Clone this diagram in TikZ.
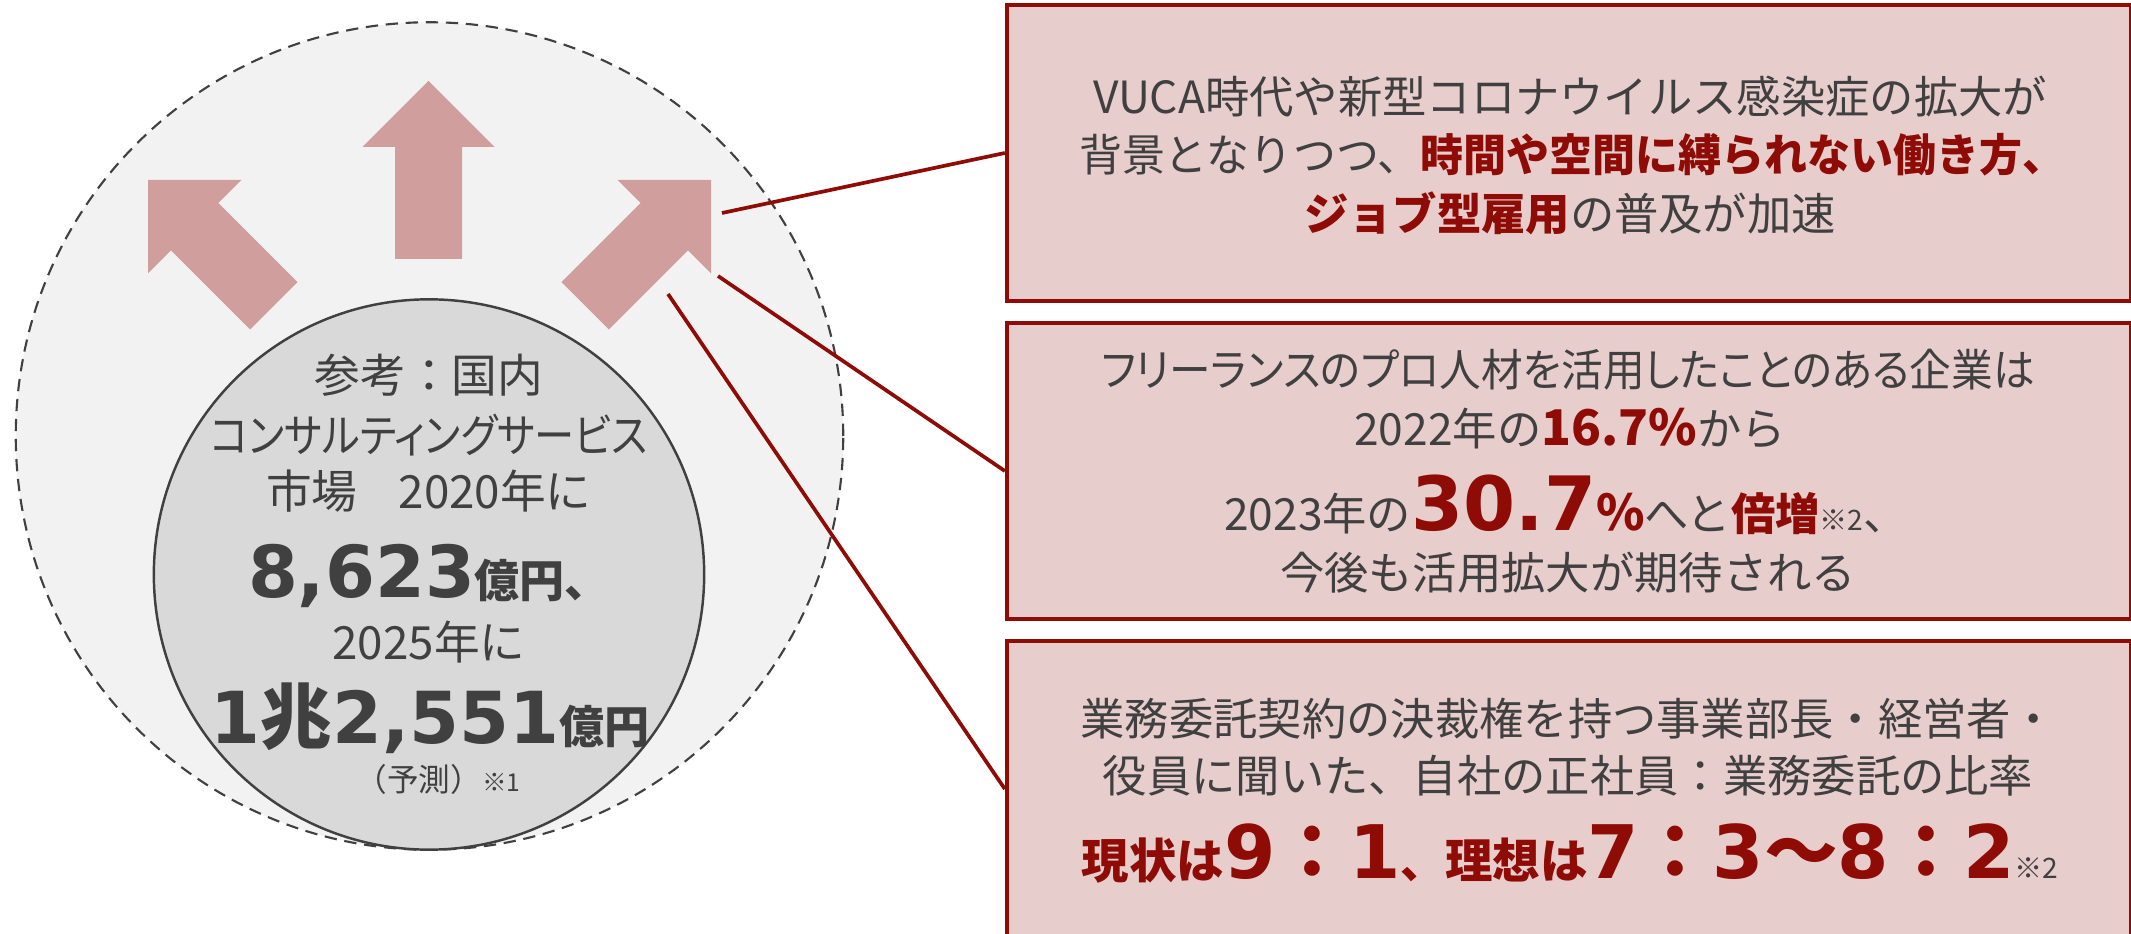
\documentclass[tikz,border=0pt]{standalone}
\usepackage{fontspec}
\setmainfont{Noto Sans CJK JP}
\newfontfamily\propfont{Noto Sans CJK JP}[RawFeature=+palt]
\newfontfamily\numfont{DejaVu Sans}
\definecolor{textgray}{HTML}{404040}
\definecolor{accent}{HTML}{8E0C05}
\definecolor{boxfill}{HTML}{E8CDCD}
\definecolor{arrowfill}{HTML}{D09E9C}
\definecolor{outerfill}{HTML}{F2F2F2}
\definecolor{innerfill}{HTML}{D9D9D9}
\newcommand\fs[1]{\fontsize{#1}{#1}\selectfont}
\newcommand\hl[1]{{\bfseries\color{accent}#1}}
\newcommand\dg[1]{{\numfont #1}}
\tikzset{
  panel/.style={rectangle, draw=accent, line width=1.05pt, fill=boxfill,
                minimum width=11.23cm, minimum height=2.96cm, inner sep=0pt},
  link/.style={accent, line width=1.05pt},
  txt/.style={anchor=base, inner sep=0pt, text=textgray, font=\fs{12.6pt}},
  bigarrow/.pic={\fill[arrowfill] (0,0) -- (66,66) -- (33.5,66) -- (33.5,178)
                   -- (-33.5,178) -- (-33.5,66) -- (-66,66) -- cycle;}
}
\begin{document}
\begin{tikzpicture}[x=0.01cm, y=-0.01cm]
  \useasboundingbox (0,0) rectangle (2131,934);
  % market circle
  \node[circle, draw=textgray, line width=.6pt, dash pattern=on 3.5pt off 2.2pt,
        fill=outerfill, minimum size=8.27cm, inner sep=0pt] (outer) at (429.5,436) {};
  \pic[rotate=45] at (148,180) {bigarrow};
  \pic at (428.5,81) {bigarrow};
  \pic[rotate=-45] at (711,180) {bigarrow};
  \node[circle, draw=textgray, line width=.7pt, fill=innerfill,
        minimum size=5.5cm, inner sep=0pt] (inner) at (429,574.5) {};
  \node[txt, font=\fs{13pt}] (ref1) at (429,393) {参考：国内};
  \node[txt, font=\propfont\fs{13pt}] (ref2) at (429,453) {\scalebox{.88}[1]{コンサルティングサービス}};
  \node[txt, font=\fs{13pt}] (ref3) at (429,509) {市場\hspace{.9em}2020年に};
  \node[txt] (ref4) at (429,597) {{\bfseries\fs{20.4pt}\dg{8,623}}{\bfseries\fs{12.8pt}億円、}};
  \node[txt, font=\fs{13pt}] (ref5) at (429,659) {2025年に};
  \node[txt] (ref6) at (430,743) {{\bfseries\fs{20.4pt}\dg{1}兆\dg{2,551}}{\bfseries\fs{12.8pt}億円}};
  \node[txt] (ref7) at (438,791) {{\fs{9pt}（予測）}{\fs{7pt}※1}};
  % boxes
  \node[panel] (vuca) at (1568.5,153) {};
  \node[panel] (freelance) at (1568.5,471) {};
  \node[panel] (ratio) at (1568.5,789) {};
  \coordinate (c1) at (722,213);
  \coordinate (c2) at (718,276);
  \coordinate (c3) at (668,294);
  \draw[link] (c1) -- (vuca.west);
  \draw[link] (c2) -- (freelance.west);
  \draw[link] (c3) -- (ratio.west);
  % box texts
  \node[txt] (vuca1) at (1570,114) {VUCA時代や新型コロナウイルス感染症の拡大が};
  \node[txt] (vuca2) at (1572,172) {\scalebox{.97}[1]{背景となりつつ、\hl{時間や空間に縛られない働き方、}}};
  \node[txt] (vuca3) at (1570,231) {\hl{ジョブ型雇用}の普及が加速};
  \node[txt, font=\propfont\fs{12.6pt}] (free1) at (1568,387) {\scalebox{.94}[1]{フリーランスのプロ人材を活用したことのある企業は}};
  \node[txt] (free2) at (1570,446) {2022年の\hl{\fs{14pt}16.7\%}から};
  \node[txt] (free3) at (1566,531) {2023年の\hl{\fs{21.3pt}\dg{30.7}}\hl{\fs{14pt}\%}へと\hl{倍増}{\fs{8pt}※2}、};
  \node[txt] (free4) at (1568,590) {今後も活用拡大が期待される};
  \node[txt] (ratio1) at (1568,735) {業務委託契約の決裁権を持つ事業部長・経営者・};
  \node[txt] (ratio2) at (1568,792) {役員に聞いた、自社の正社員：業務委託の比率};
  \node[txt] (ratio3) at (1570,878) {\hl{{\fs{13.5pt}現状は}{\fs{21pt}\dg{9}：\dg{1}}、{\fs{13.5pt}理想は}{\fs{21pt}\dg{7}：\dg{3}〜\dg{8}：\dg{2}}}{\fs{8pt}※2}};
\end{tikzpicture}
\end{document}
